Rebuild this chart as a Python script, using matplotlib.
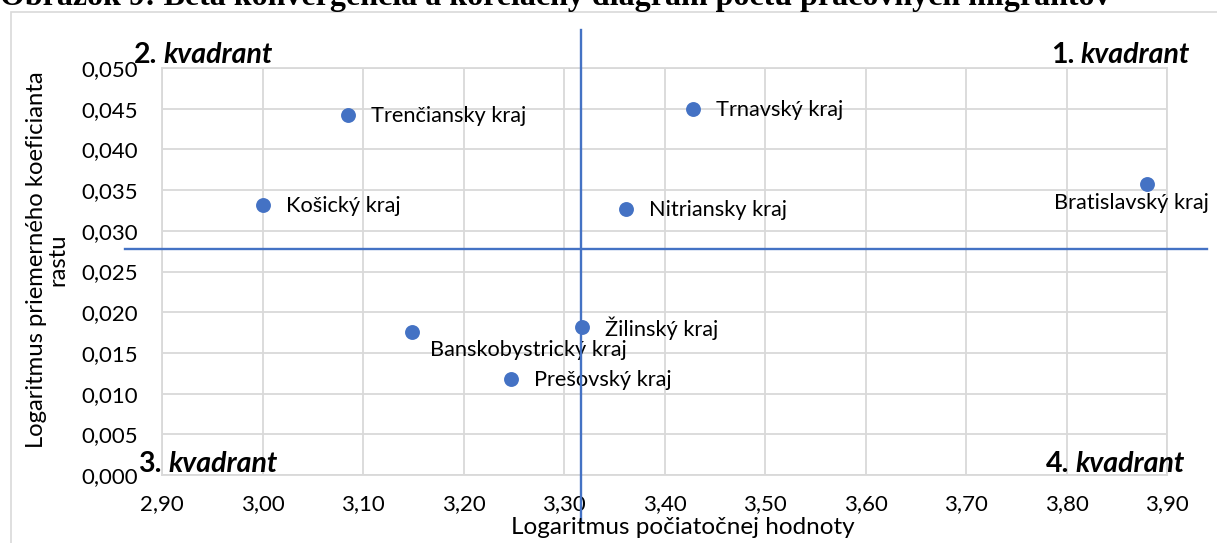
import matplotlib
matplotlib.use('Agg')
import matplotlib.pyplot as plt
from matplotlib.patches import Rectangle

# data
regions = ['Trenčiansky kraj', 'Košický kraj', 'Trnavský kraj', 'Nitriansky kraj',
           'Bratislavský kraj', 'Banskobystrický kraj', 'Žilinský kraj', 'Prešovský kraj']
log_start = [3.085, 3.000, 3.428, 3.362, 3.880, 3.149, 3.318, 3.247]
log_growth = [0.0442, 0.0332, 0.0450, 0.0327, 0.0357, 0.0176, 0.0182, 0.0118]

x_ticks = [2.90, 3.00, 3.10, 3.20, 3.30, 3.40, 3.50, 3.60, 3.70, 3.80, 3.90]
y_ticks = [0.000, 0.005, 0.010, 0.015, 0.020, 0.025, 0.030, 0.035, 0.040, 0.045, 0.050]

# quadrant dividing lines
x_split = 3.317
y_split = 0.0278

W, H = 1217, 543
blue = '#4472C4'
grid_col = '#d9d9d9'
plt.rcParams['font.family'] = ['Lato', 'DejaVu Sans']

fig = plt.figure(figsize=(W / 100, H / 100), dpi=100)
ax = fig.add_axes([162 / W, 1 - 475 / H, 1005 / W, 407 / H])


def fx(x):
    return x / W


def fy(y):
    return 1 - y / H


# outer chart border and cut-off caption above it
fig.patches.append(Rectangle((fx(11), fy(560)), fx(1240) - fx(11), fy(12) - fy(560),
                             transform=fig.transFigure, fill=False, edgecolor=grid_col, lw=1.2))
fig.text(fx(0), fy(5), 'Obrázok 9: Beta konvergencia a korelačný diagram počtu pracovných migrantov',
         family='Liberation Serif', fontweight='bold', fontsize=23, ha='left', va='baseline')

ax.scatter(log_start, log_growth, s=115, color=blue, zorder=3, linewidths=0)

offsets = {
    'Bratislavský kraj': (-15, -19, 'center'),
    'Banskobystrický kraj': (18, -18, 'left'),
}
for name, x, y in zip(regions, log_start, log_growth):
    dx, dy, ha = offsets.get(name, (23, -1, 'left'))
    ax.annotate(name, (x, y), xytext=(dx, dy), textcoords='offset pixels',
                ha=ha, va='center', fontsize=15.7, color='#000000', zorder=4)

ax.set_xlim(2.90, 3.90)
ax.set_ylim(0.0, 0.050)
ax.set_xticks(x_ticks)
ax.set_yticks(y_ticks)
ax.set_xticklabels([f'{v:.2f}'.replace('.', ',') for v in x_ticks])
ax.set_yticklabels([f'{v:.3f}'.replace('.', ',') for v in y_ticks])
ax.tick_params(length=0, labelsize=16, colors='#000000')
ax.tick_params(axis='x', pad=14)
ax.tick_params(axis='y', pad=17)
ax.grid(True, color=grid_col, lw=1.3)
ax.set_axisbelow(True)
for sp in ax.spines.values():
    sp.set_color(grid_col)
    sp.set_linewidth(1.3)

# quadrant lines reach past the plot area
ax.axvline(x_split, ymin=-0.115, ymax=1.093, color=blue, lw=1.7, clip_on=False, zorder=5)
ax.axhline(y_split, xmin=-0.037, xmax=1.040, color=blue, lw=1.7, clip_on=False, zorder=5)

fig.text(fx(683), fy(528), 'Logaritmus počiatočnej hodnoty', ha='center', va='center', fontsize=17.5)
fig.text(fx(47), fy(260), 'Logaritmus priemerného koeficianta\nrastu', ha='center', va='center',
         rotation=90, fontsize=17.2, linespacing=1.0, multialignment='center')

# quadrant captions: number bold, word bold italic
quadrants = [('2.', 163, 63), ('1.', 1080, 63), ('3.', 168, 472), ('4.', 1075, 472)]
for num, xk, yb in quadrants:
    fig.text(fx(xk - 6), fy(yb), num, ha='right', va='baseline', fontsize=20.5, fontweight='bold')
    fig.text(fx(xk), fy(yb), 'kvadrant', ha='left', va='baseline', fontsize=20.5,
             fontweight='bold', fontstyle='italic')

fig.savefig('out.png', dpi=100)
